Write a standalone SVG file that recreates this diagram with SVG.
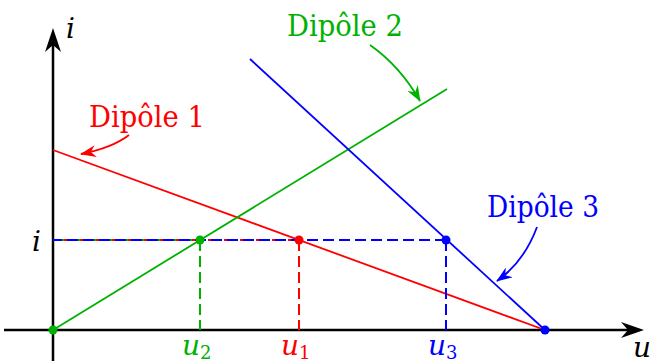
<svg xmlns="http://www.w3.org/2000/svg" width="650" height="362" viewBox="0 0 650 362">
<style>
.lab{font-size:29px;}
.math{font-style:italic;font-size:28px;}
.red{fill:#ff0000;}
.grn{fill:#00b200;}
.blu{fill:#0000ff;}
.ln{fill:none;stroke-width:1.8;}
.dash{fill:none;stroke-width:2;stroke-dasharray:11 5;}
.ax{fill:none;stroke:#000;stroke-width:2.5;}
</style>
<defs>
<marker id="mr" viewBox="0 0 16 12" refX="15" refY="6" markerWidth="16" markerHeight="12" markerUnits="userSpaceOnUse" orient="auto"><path d="M0,0 L16,6 L0,12 L5,6 Z" fill="#ff0000"/></marker>
<marker id="mg" viewBox="0 0 16 12" refX="15" refY="6" markerWidth="16" markerHeight="12" markerUnits="userSpaceOnUse" orient="auto"><path d="M0,0 L16,6 L0,12 L5,6 Z" fill="#00b200"/></marker>
<marker id="mb" viewBox="0 0 16 12" refX="15" refY="6" markerWidth="16" markerHeight="12" markerUnits="userSpaceOnUse" orient="auto"><path d="M0,0 L16,6 L0,12 L5,6 Z" fill="#0000ff"/></marker>
</defs>
<rect width="650" height="362" fill="#fff"/>

<g id="axes" font-family="'DejaVu Serif', 'Liberation Serif', serif">
<line class="ax" x1="53" y1="361" x2="53" y2="40"/>
<path d="M53,28 L45,52 L53,45 L61,52 Z" fill="#000"/>
<line class="ax" x1="4" y1="330" x2="632" y2="330"/>
<path d="M644,330 L621,322 L628,330 L621,338 Z" fill="#000"/>
<text class="math" x="66" y="38">i</text>
<text class="math" x="633" y="357">u</text>
</g>

<g id="dipole1">
<line class="ln" stroke="#ff0000" x1="53" y1="150" x2="545" y2="330"/>
</g>
<g id="dipole2">
<line class="ln" stroke="#00b200" x1="53" y1="330" x2="447" y2="89"/>
</g>
<g id="dipole3">
<line class="ln" stroke="#0000ff" x1="250" y1="59" x2="545" y2="330"/>
</g>

<g id="connectors">
<line class="dash" stroke="#00b200" x1="200" y1="240" x2="53" y2="240"/>
<line class="dash" stroke="#ff0000" x1="299" y1="240" x2="53" y2="240"/>
<line class="dash" stroke="#0000ff" x1="446" y1="240" x2="53" y2="240"/>
<line class="dash" stroke="#00b200" x1="200" y1="240" x2="200" y2="330"/>
<line class="dash" stroke="#ff0000" x1="299" y1="240" x2="299" y2="330"/>
<line class="dash" stroke="#0000ff" x1="446" y1="240" x2="446" y2="330"/>
<path class="ln" stroke="#ff0000" d="M129,135 Q112,148 81,154" marker-end="url(#mr)"/>
<path class="ln" stroke="#00b200" d="M370,45 Q400,66 420,101" marker-end="url(#mg)"/>
<path class="ln" stroke="#0000ff" d="M537,227 Q524,262 497,281" marker-end="url(#mb)"/>
</g>

<g id="points">
<circle cx="53" cy="330" r="4.5" class="grn"/>
<circle cx="200" cy="240" r="4.5" class="grn"/>
<circle cx="299" cy="240" r="4.5" class="red"/>
<circle cx="446" cy="240" r="4.5" class="blu"/>
<circle cx="545" cy="330" r="4.5" class="blu"/>
</g>

<g id="labels" font-family="'DejaVu Serif', 'Liberation Serif', serif">
<text class="lab red" x="89" y="127" textLength="116" lengthAdjust="spacingAndGlyphs">Dipôle 1</text>
<text class="lab grn" x="287" y="36" textLength="116" lengthAdjust="spacingAndGlyphs">Dipôle 2</text>
<text class="lab blu" x="487" y="217" textLength="112" lengthAdjust="spacingAndGlyphs">Dipôle 3</text>
<text class="math" x="32" y="251">i</text>
<text class="math grn" x="182" y="355">u<tspan font-size="18" font-style="normal" dy="4">2</tspan></text>
<text class="math red" x="281" y="355">u<tspan font-size="18" font-style="normal" dy="4">1</tspan></text>
<text class="math blu" x="428" y="355">u<tspan font-size="18" font-style="normal" dy="4">3</tspan></text>
</g>
</svg>
